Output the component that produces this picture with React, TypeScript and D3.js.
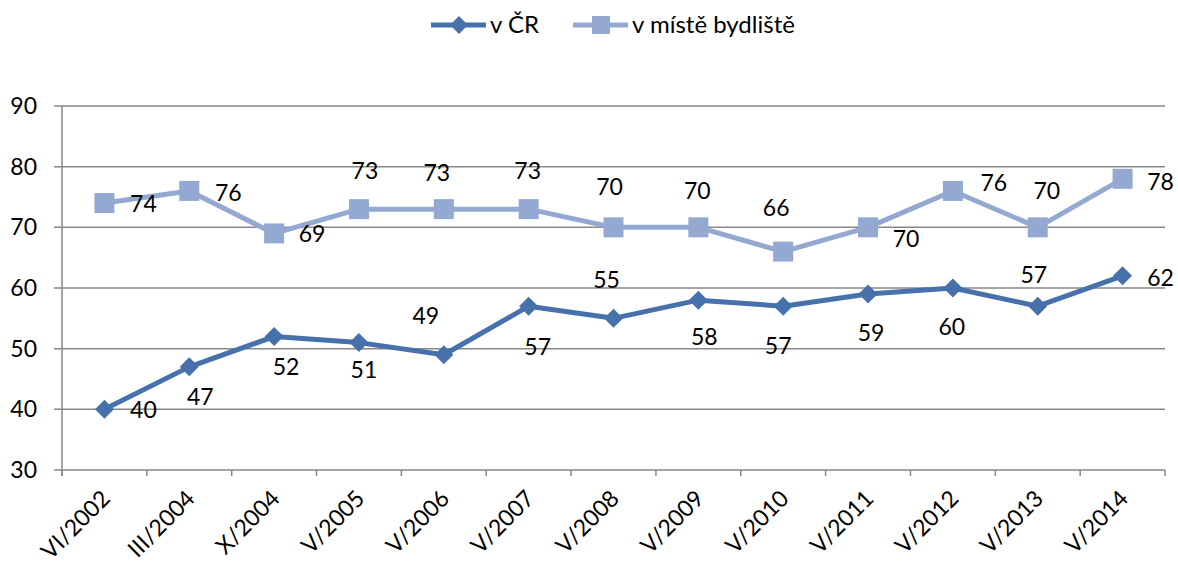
import React from 'react';
import * as d3 from 'd3';

const categories = ['VI/2002', 'III/2004', 'X/2004', 'V/2005', 'V/2006', 'V/2007', 'V/2008', 'V/2009', 'V/2010', 'V/2011', 'V/2012', 'V/2013', 'V/2014'];
const vCR = [40, 47, 52, 51, 49, 57, 55, 58, 57, 59, 60, 57, 62];
const vMiste = [74, 76, 69, 73, 73, 73, 70, 70, 66, 70, 76, 70, 78];
const yTicks = [30, 40, 50, 60, 70, 80, 90];

// label centre offsets from the point, in px (hand placed in the original)
const crLabelOffset = [[39, 1], [11, 30], [12, 30], [5, 27], [-18, -39], [9, 41], [-7, -38], [6, 37], [-5, 40], [3, 39], [-1, 39], [-4, -31], [38, 2]];
const misteLabelOffset = [[39, 1], [39, 2], [38, 1], [6, -38], [-7, -36], [-1, -38], [-4, -40], [-1, -36], [-7, -44], [38, 12], [41, -8], [9, -36], [38, 3]];

const W = 1178;
const H = 563;
const font = 'Lato, "Open Sans", sans-serif';
const fs = 23;
const dark = '#4771AB';
const light = '#93A9D1';
const grid = '#878787';

export default function App() {
  const left = 62, right = 1165, top = 106, bottom = 470;
  const x = d3.scaleBand().domain(categories).range([left, right]);
  const y = d3.scaleLinear().domain([30, 90]).range([bottom, top]);
  const cx = (i: number) => (x(categories[i]) as number) + x.bandwidth() / 2;

  const line = d3.line<number>().x((_, i) => cx(i)).y(d => y(d));
  const bounds = categories.map(c => x(c) as number).concat([right]);

  const diamond = (px: number, py: number, r: number) =>
    `M${px},${py - r}L${px + r},${py}L${px},${py + r}L${px - r},${py}Z`;

  // baseline sits ~8px under the digit centre
  const half = 8;

  return (
    <svg width={W} height={H} style={{ position: 'absolute', left: 0, top: 0 }} fontFamily={font}>
      <rect width={W} height={H} fill="#fff" />
      {yTicks.map(t => (
        <g key={t}>
          <line x1={54} x2={right} y1={y(t)} y2={y(t)} stroke={grid} strokeWidth={1.5} />
          <text x={37} y={y(t) + half} textAnchor="end" fontSize={fs} fill="#000">{t}</text>
        </g>
      ))}
      <line x1={left} x2={left} y1={top} y2={bottom + 6} stroke={grid} strokeWidth={1.5} />
      {bounds.map((b, i) => (
        <line key={i} x1={b} x2={b} y1={bottom} y2={bottom + 6} stroke={grid} strokeWidth={1.5} />
      ))}
      {categories.map((c, i) => (
        <text key={c} transform={`translate(${cx(i) + 7},${bottom + 30}) rotate(-45)`} textAnchor="end" fontSize={fs} fill="#000">{c}</text>
      ))}

      <path d={line(vMiste) as string} fill="none" stroke={light} strokeWidth={5} strokeLinejoin="round" />
      {vMiste.map((v, i) => (
        <rect key={i} x={cx(i) - 10} y={y(v) - 10} width={20} height={20} fill={light} />
      ))}
      <path d={line(vCR) as string} fill="none" stroke={dark} strokeWidth={5} strokeLinejoin="round" />
      {vCR.map((v, i) => (
        <path key={i} d={diamond(cx(i), y(v), 9.5)} fill={dark} />
      ))}

      {vMiste.map((v, i) => (
        <text key={i} x={cx(i) + misteLabelOffset[i][0]} y={y(v) + misteLabelOffset[i][1] + half} textAnchor="middle" fontSize={fs} fill="#000">{v}</text>
      ))}
      {vCR.map((v, i) => (
        <text key={i} x={cx(i) + crLabelOffset[i][0]} y={y(v) + crLabelOffset[i][1] + half} textAnchor="middle" fontSize={fs} fill="#000">{v}</text>
      ))}

      <g>
        <line x1={431} x2={486} y1={25} y2={25} stroke={dark} strokeWidth={5} />
        <path d={diamond(459, 25, 9)} fill={dark} />
        <text x={490} y={25 + half} fontSize={24} fill="#000">v ČR</text>
        <line x1={573} x2={628} y1={25} y2={25} stroke={light} strokeWidth={5} />
        <rect x={592} y={16} width={18} height={18} fill={light} />
        <text x={632} y={25 + half} fontSize={24} fill="#000">v místě bydliště</text>
      </g>
    </svg>
  );
}
